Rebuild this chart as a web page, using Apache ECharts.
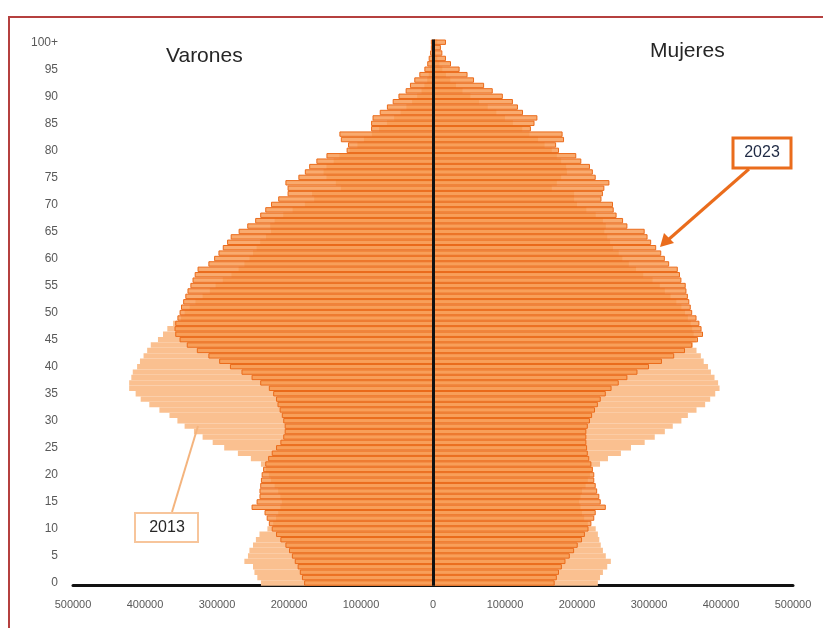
<!DOCTYPE html>
<html>
<head>
<meta charset="utf-8">
<script src="https://cdn.jsdelivr.net/npm/echarts@6/dist/echarts.min.js"></script>
<style>
  html, body { margin: 0; padding: 0; background: #ffffff; }
  #chart { width: 823px; height: 628px; }
</style>
</head>
<body>
<div id="chart"></div>
<script>
// Ages 0..99 plus the open group "100+"
var ages = [];
for (var i = 0; i < 100; i++) ages.push(String(i));
ages.push('100+');

// Population by single year of age (persons)
var varones2013 = [
  239000, 244000, 248000, 250000, 262000, 257000, 255000, 250000, 246000, 241000,
  230000, 222000, 218000, 215000, 212000, 210000, 212000, 215000, 220000, 225000,
  228000, 232000, 239000, 253000, 271000, 290000, 306000, 320000, 332000, 345000,
  355000, 366000, 380000, 394000, 406000, 413000, 422000, 422000, 419000, 417000,
  411000, 407000, 402000, 397000, 392000, 382000, 375000, 369000, 361000, 350000,
  345000, 338000, 330000, 320000, 310000, 302000, 292000, 280000, 270000, 262000,
  255000, 250000, 245000, 240000, 232000, 225000, 226000, 220000, 208000, 195000,
  178000, 165000, 168000, 128000, 135000, 148000, 152000, 148000, 138000, 130000,
  116000, 105000, 96000, 85000, 75000, 64000, 54000, 45000, 37000, 29000,
  22000, 16000, 12000, 8000, 6000, 4000, 3000, 2000, 1300, 900,
  1500
];
var mujeres2013 = [
  229000, 232000, 236000, 242000, 247000, 240000, 236000, 233000, 231000, 229000,
  226000, 215000, 210000, 207000, 205000, 203000, 205000, 207000, 212000, 215000,
  218000, 222000, 232000, 243000, 261000, 275000, 294000, 308000, 322000, 333000,
  345000, 354000, 366000, 378000, 385000, 392000, 398000, 396000, 391000, 386000,
  382000, 376000, 372000, 366000, 361000, 365000, 362000, 360000, 358000, 354000,
  350000, 345000, 338000, 330000, 322000, 315000, 305000, 292000, 282000, 272000,
  263000, 258000, 250000, 246000, 242000, 238000, 240000, 236000, 226000, 213000,
  200000, 196000, 196000, 165000, 172000, 178000, 186000, 185000, 178000, 172000,
  165000, 155000, 146000, 134000, 124000, 111000, 100000, 88000, 76000, 64000,
  52000, 41000, 32000, 24000, 18000, 13000, 9000, 6000, 4000, 3000,
  6000
];
var varones2023 = [
  179000, 182000, 185000, 188000, 192000, 196000, 200000, 205000, 212000, 218000,
  224000, 228000, 231000, 234000, 252000, 245000, 241000, 241000, 240000, 239000,
  238000, 236000, 233000, 229000, 224000, 218000, 212000, 208000, 206000, 206000,
  208000, 210000, 213000, 216000, 218000, 222000, 228000, 240000, 252000, 266000,
  282000, 297000, 312000, 328000, 342000, 352000, 358000, 359000, 358000, 355000,
  352000, 350000, 347000, 344000, 341000, 337000, 334000, 331000, 327000, 312000,
  304000, 298000, 292000, 286000, 281000, 270000, 258000, 247000, 240000, 233000,
  225000, 215000, 202000, 202000, 205000, 187000, 178000, 172000, 162000, 148000,
  120000, 118000, 128000, 130000, 86000, 86000, 84000, 74000, 64000, 56000,
  48000, 38000, 32000, 26000, 19000, 12000, 8000, 6000, 4000, 3000,
  3000
];
var mujeres2023 = [
  169000, 172000, 175000, 179000, 184000, 190000, 196000, 201000, 207000, 211000,
  216000, 220000, 224000, 226000, 240000, 233000, 231000, 228000, 226000, 224000,
  224000, 222000, 220000, 217000, 215000, 214000, 213000, 213000, 213000, 215000,
  218000, 221000, 225000, 229000, 233000, 240000, 248000, 258000, 270000, 284000,
  300000, 318000, 335000, 350000, 360000, 368000, 375000, 373000, 370000, 366000,
  360000, 358000, 356000, 354000, 352000, 351000, 345000, 343000, 340000, 328000,
  322000, 317000, 310000, 303000, 298000, 294000, 270000, 264000, 255000, 251000,
  250000, 234000, 236000, 238000, 245000, 226000, 222000, 218000, 206000, 199000,
  175000, 171000, 182000, 180000, 136000, 141000, 145000, 125000, 118000, 111000,
  97000, 83000, 71000, 57000, 48000, 37000, 25000, 18000, 13000, 11000,
  18000
];

// Males are drawn to the left of zero
function toLeft(arr) { return arr.map(function (v) { return -v; }); }

var peach = '#fac090';
var orangeLine = '#ea6a1a';
var orangeFill = 'rgba(248,150,75,0.8)';
var textFont = 'Liberation Sans, Arial, sans-serif';

var chart = echarts.init(document.getElementById('chart'), null, { renderer: 'canvas' });

var option = {
  animation: false,
  backgroundColor: '#ffffff',
  textStyle: { fontFamily: textFont },
  grid: { left: 73, right: 30, top: 39.5, bottom: 42.3, containLabel: false },
  xAxis: {
    type: 'value',
    min: -500000,
    max: 500000,
    interval: 100000,
    splitLine: { show: false },
    axisTick: { show: false },
    axisLine: { show: true, onZero: false, lineStyle: { color: '#111', width: 3 } },
    axisLabel: {
      color: '#595959',
      fontSize: 11,
      margin: 14,
      fontFamily: textFont,
      formatter: function (v) { return String(Math.abs(v)); }
    }
  },
  yAxis: {
    type: 'category',
    data: ages,
    boundaryGap: true,
    axisLine: { show: false },
    axisTick: { show: false },
    splitLine: { show: false },
    axisLabel: {
      interval: 4,
      color: '#595959',
      fontSize: 12,
      margin: 15,
      fontFamily: textFont
    }
  },
  series: [
    {
      name: 'Varones 2013', type: 'bar', data: toLeft(varones2013),
      barGap: '-100%', barCategoryGap: '0%',
      itemStyle: { color: peach }, z: 1, silent: true
    },
    {
      name: 'Mujeres 2013', type: 'bar', data: mujeres2013,
      barGap: '-100%', barCategoryGap: '0%',
      itemStyle: { color: peach }, z: 1, silent: true
    },
    {
      name: 'Varones 2023', type: 'bar', data: toLeft(varones2023),
      barGap: '-100%', barCategoryGap: '0%',
      itemStyle: { color: orangeFill, borderColor: orangeLine, borderWidth: 1 },
      z: 2, silent: true
    },
    {
      name: 'Mujeres 2023', type: 'bar', data: mujeres2023,
      barGap: '-100%', barCategoryGap: '0%',
      itemStyle: { color: orangeFill, borderColor: orangeLine, borderWidth: 1 },
      z: 2, silent: true,
      markLine: {
        silent: true,
        symbol: ['none', 'none'],
        label: { show: false },
        lineStyle: { color: '#111', width: 3, type: 'solid' },
        data: [{ xAxis: 0 }]
      }
    }
  ],
  graphic: [
    // outer frame
    {
      type: 'rect', x: 9, y: 17, z: 100, silent: true,
      shape: { width: 840, height: 700 },
      style: { fill: null, stroke: '#b5403f', lineWidth: 2 }
    },
    {
      type: 'text', x: 166, y: 46, z: 100, silent: true,
      style: { text: 'Varones', fill: '#262626', font: '21px ' + textFont }
    },
    {
      type: 'text', x: 650, y: 41, z: 100, silent: true,
      style: { text: 'Mujeres', fill: '#262626', font: '21px ' + textFont }
    },
    // 2023 callout
    {
      type: 'line', z: 100, silent: true,
      shape: { x1: 749, y1: 169, x2: 668, y2: 240 },
      style: { stroke: '#ea6c1c', lineWidth: 3 }
    },
    {
      type: 'polygon', z: 100, silent: true,
      shape: { points: [[660, 247], [664, 233], [674, 243]] },
      style: { fill: '#ea6c1c' }
    },
    {
      type: 'rect', x: 733, y: 138, z: 101, silent: true,
      shape: { width: 58, height: 30 },
      style: { fill: '#ffffff', stroke: '#ea6c1c', lineWidth: 3 }
    },
    {
      type: 'text', x: 762, y: 153, z: 102, silent: true,
      style: { text: '2023', fill: '#1f2a44', font: '16px ' + textFont, align: 'center', verticalAlign: 'middle' }
    },
    // 2013 callout
    {
      type: 'line', z: 100, silent: true,
      shape: { x1: 172, y1: 512, x2: 198, y2: 426 },
      style: { stroke: '#f4b47e', lineWidth: 2 }
    },
    {
      type: 'rect', x: 135, y: 513, z: 101, silent: true,
      shape: { width: 63, height: 29 },
      style: { fill: '#ffffff', stroke: '#f7c59b', lineWidth: 2 }
    },
    {
      type: 'text', x: 167, y: 528, z: 102, silent: true,
      style: { text: '2013', fill: '#262626', font: '16px ' + textFont, align: 'center', verticalAlign: 'middle' }
    }
  ]
};

chart.setOption(option);
</script>
</body>
</html>
